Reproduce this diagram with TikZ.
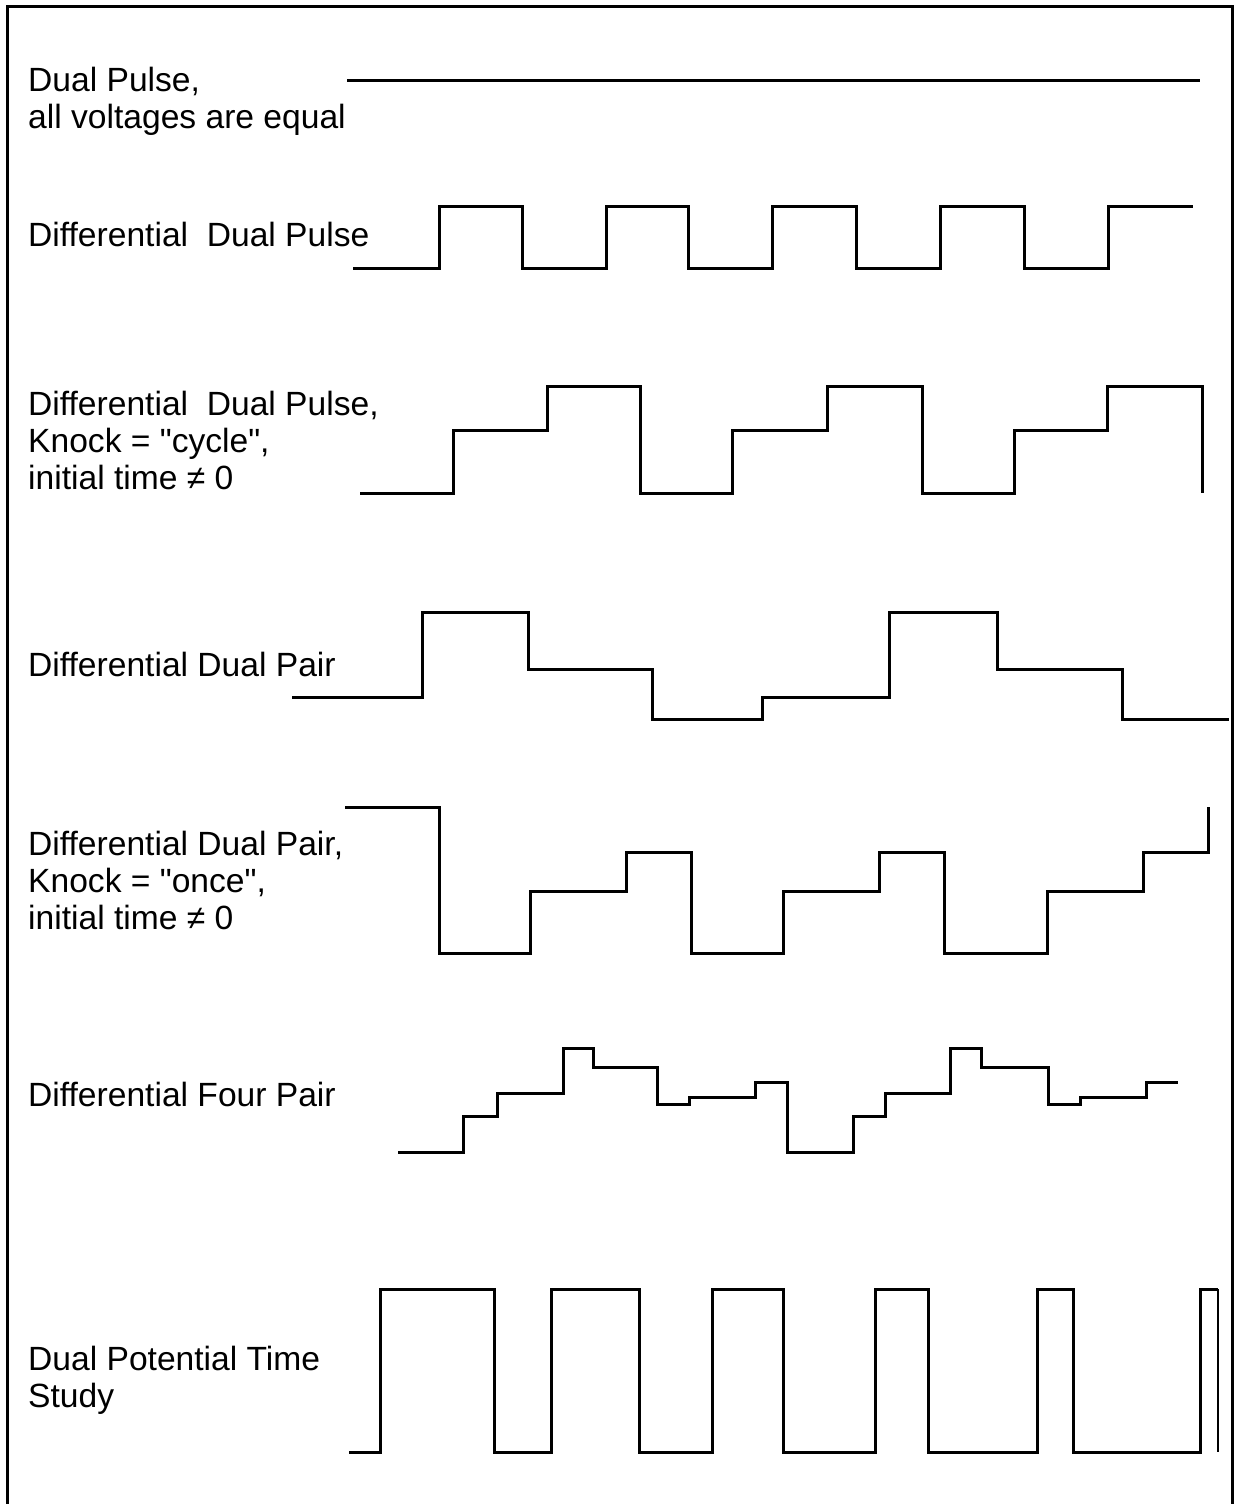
\documentclass[tikz,border=0pt]{standalone}
\usepackage{fontspec}
\setmainfont{Liberation Sans}
\usepackage{tikz}

\begin{document}
\begin{tikzpicture}[
  x=1pt,y=-1pt,
  wave/.style={line width=3pt,line cap=butt,line join=miter,black},
  frame/.style={line width=3pt,black},
  lbl/.style={inner sep=0pt,align=left,font=\fontsize{33.6}{37}\selectfont}
]
  \useasboundingbox (0,0) rectangle (1237,1504);
  \draw[frame] (7,1504) -- (7,7) -- (1232,7) -- (1232,1504);

  \node[lbl,anchor=north west] (equal) at (28,67) {Dual Pulse,\\all voltages are equal};
  \node[lbl,anchor=base west] (dpulse) at (28,246) {Differential\ \ Dual Pulse};
  \node[lbl,anchor=north west] (cycle) at (28,391) {Differential\ \ Dual Pulse,\\Knock = \textquotedbl cycle\textquotedbl,\\initial time ≠ 0};
  \node[lbl,anchor=base west] (dpair) at (28,676) {Differential Dual Pair};
  \node[lbl,anchor=north west] (once) at (28,831) {Differential Dual Pair,\\Knock = \textquotedbl once\textquotedbl,\\initial time ≠ 0};
  \node[lbl,anchor=base west] (fpair) at (28,1106) {Differential Four Pair};
  \node[lbl,anchor=north west] (study) at (28,1346) {Dual Potential Time\\Study};

  \draw[wave] (347,80) -- (1200,80);

  \draw[wave] (353,268) -| (439,206) -| (522,268) -| (606,206) -| (688,268)
    -| (772,206) -| (856,268) -| (940,206) -| (1024,268) -| (1108,206) -- (1193,206);

  \draw[wave] (360,493) -| (453,430) -| (547,386) -| (640,493) -| (732,430)
    -| (827,386) -| (922,493) -| (1014,430) -| (1107,386) -| (1202,493);

  \draw[wave] (292,697) -| (422,612) -| (528,669) -| (652,719) -| (762,697)
    -| (889,612) -| (997,669) -| (1122,719) -- (1229,719);

  \draw[wave] (345,807) -| (439,953) -| (530,891) -| (626,852) -| (691,953)
    -| (783,891) -| (879,852) -| (944,953) -| (1047,891) -| (1143,852) -| (1208,807);

  \draw[wave] (398,1152) -| (463,1116) -| (497,1093) -| (563,1048) -| (593,1067)
    -| (657,1104) -| (689,1097) -| (755,1082) -| (787,1152) -| (853,1116)
    -| (885,1093) -| (950,1048) -| (981,1067) -| (1048,1104) -| (1080,1097)
    -| (1146,1082) -- (1178,1082);

  \draw[wave] (349,1452) -| (380,1289) -| (494,1452) -| (551,1289) -| (639,1452)
    -| (712,1289) -| (783,1452) -| (875,1289) -| (928,1452) -| (1037,1289)
    -| (1073,1452) -| (1200,1289) -- (1218,1289);
  \draw[wave,line width=2pt] (1218,1289) -- (1218,1452);
\end{tikzpicture}
\end{document}
